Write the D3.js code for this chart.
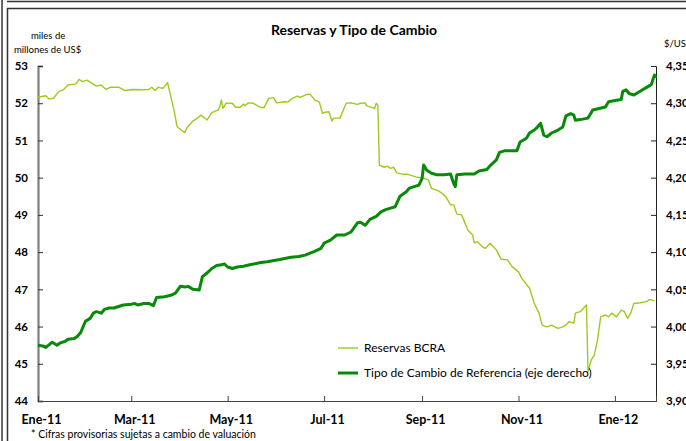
<!DOCTYPE html>
<html>
<head>
<meta charset="utf-8">
<script src="https://cdn.jsdelivr.net/npm/d3@7"></script>
<style>
  body { margin: 0; background: #fff; }
  svg { display: block; font-family: Lato, "DejaVu Sans", sans-serif; }
</style>
</head>
<body>
<svg id="chart" width="686" height="441"></svg>
<script>
// Reservas BCRA (miles de millones de US$)
const resDates = ["2011-01-01","2011-01-06","2011-01-08","2011-01-11","2011-01-14","2011-01-17","2011-01-20","2011-01-25","2011-01-27","2011-01-29",
  "2011-02-01","2011-02-04","2011-02-07","2011-02-10","2011-02-13","2011-02-16","2011-02-21","2011-02-25","2011-03-02","2011-03-09",
  "2011-03-12","2011-03-14","2011-03-16","2011-03-18","2011-03-21","2011-03-24","2011-03-28","2011-03-30","2011-04-01","2011-04-04",
  "2011-04-05","2011-04-09","2011-04-12","2011-04-14","2011-04-16","2011-04-18","2011-04-21","2011-04-25","2011-04-26","2011-04-27",
  "2011-04-28","2011-04-30","2011-05-04","2011-05-06","2011-05-09","2011-05-11","2011-05-12","2011-05-14","2011-05-17","2011-05-20",
  "2011-05-22","2011-05-24","2011-05-27","2011-05-30","2011-06-01","2011-06-06","2011-06-08","2011-06-11","2011-06-14","2011-06-16",
  "2011-06-19","2011-06-22","2011-06-25","2011-06-28","2011-06-30","2011-07-02","2011-07-04","2011-07-06","2011-07-07","2011-07-11",
  "2011-07-15","2011-07-18","2011-07-22","2011-07-24","2011-07-27","2011-07-28","2011-08-02","2011-08-03","2011-08-04","2011-08-05",
  "2011-08-08","2011-08-10","2011-08-12","2011-08-14","2011-08-16","2011-08-20","2011-08-23","2011-08-26","2011-08-29","2011-09-02",
  "2011-09-05","2011-09-07","2011-09-11","2011-09-13","2011-09-16","2011-09-19","2011-09-21","2011-09-23","2011-09-26","2011-09-30",
  "2011-10-03","2011-10-04","2011-10-06","2011-10-09","2011-10-11","2011-10-14","2011-10-18","2011-10-21","2011-10-25","2011-10-28",
  "2011-11-01","2011-11-03","2011-11-08","2011-11-11","2011-11-14","2011-11-16","2011-11-19","2011-11-22","2011-11-24","2011-11-26",
  "2011-11-29","2011-12-01","2011-12-03","2011-12-06","2011-12-07","2011-12-10","2011-12-13","2011-12-14","2011-12-15","2011-12-17",
  "2011-12-19","2011-12-21","2011-12-23","2011-12-26","2011-12-28","2011-12-30","2012-01-02","2012-01-05","2012-01-07","2012-01-09",
  "2012-01-11","2012-01-13","2012-01-17","2012-01-21","2012-01-23","2012-01-26"];
const resValues = [52.16,52.20,52.11,52.14,52.31,52.36,52.49,52.52,52.64,52.58,
  52.62,52.54,52.46,52.49,52.37,52.43,52.43,52.34,52.37,52.36,
  52.37,52.43,52.34,52.43,52.40,52.55,51.82,51.37,51.30,51.21,
  51.33,51.52,51.60,51.68,51.62,51.55,51.75,51.82,51.91,52.09,
  51.86,52.00,52.00,51.89,51.89,51.98,51.93,52.01,52.00,51.93,
  51.89,51.88,52.13,52.15,52.01,52.04,52.03,52.13,52.19,52.16,
  52.22,52.25,52.09,52.03,51.73,51.76,51.77,51.52,51.60,51.60,
  52.00,52.01,51.97,52.00,52.01,51.93,51.86,52.00,51.95,50.34,
  50.28,50.31,50.25,50.28,50.13,50.09,50.09,50.05,50.01,49.98,
  49.94,49.71,49.65,49.60,49.49,49.27,49.27,49.02,49.00,48.59,
  48.46,48.25,48.28,48.15,48.10,48.24,48.06,47.81,47.79,47.61,
  47.47,47.30,47.03,46.62,46.36,46.04,45.99,46.04,45.99,45.95,
  45.99,46.04,46.13,46.09,46.36,46.40,46.53,46.58,44.79,45.10,
  45.24,45.64,46.26,46.31,46.26,46.36,46.26,46.44,46.40,46.22,
  46.36,46.62,46.64,46.67,46.73,46.69];

// Tipo de Cambio de Referencia ($/US$, eje derecho)
const tcDates = ["2011-01-01","2011-01-04","2011-01-06","2011-01-10","2011-01-13","2011-01-15","2011-01-18","2011-01-20","2011-01-24","2011-01-26",
  "2011-01-28","2011-01-31","2011-02-03","2011-02-05","2011-02-07","2011-02-10","2011-02-12","2011-02-15","2011-02-18","2011-02-21",
  "2011-02-24","2011-03-01","2011-03-03","2011-03-05","2011-03-09","2011-03-12","2011-03-15","2011-03-17","2011-03-22","2011-03-26",
  "2011-03-29","2011-04-01","2011-04-04","2011-04-06","2011-04-09","2011-04-13","2011-04-15","2011-04-18","2011-04-21","2011-04-24",
  "2011-04-27","2011-04-29","2011-05-01","2011-05-04","2011-05-07","2011-05-11","2011-05-15","2011-05-22","2011-05-26","2011-06-03",
  "2011-06-10","2011-06-15","2011-06-19","2011-06-25","2011-06-29","2011-07-01","2011-07-05","2011-07-09","2011-07-14","2011-07-18",
  "2011-07-22","2011-07-24","2011-07-27","2011-07-30","2011-08-03","2011-08-06","2011-08-09","2011-08-12","2011-08-15","2011-08-18",
  "2011-08-22","2011-08-24","2011-08-27","2011-08-30","2011-09-01","2011-09-02","2011-09-04","2011-09-07","2011-09-10","2011-09-15",
  "2011-09-19","2011-09-21","2011-09-22","2011-09-23","2011-09-28","2011-10-04","2011-10-07","2011-10-12","2011-10-14","2011-10-18",
  "2011-10-20","2011-10-23","2011-10-31","2011-11-02","2011-11-06","2011-11-08","2011-11-11","2011-11-13","2011-11-15","2011-11-17",
  "2011-11-19","2011-11-22","2011-11-26","2011-11-29","2011-12-01","2011-12-04","2011-12-06","2011-12-07","2011-12-10","2011-12-15",
  "2011-12-18","2011-12-22","2011-12-26","2011-12-28","2012-01-02","2012-01-05","2012-01-06","2012-01-08","2012-01-10","2012-01-13",
  "2012-01-17","2012-01-20","2012-01-24","2012-01-26","2012-01-27"];
const tcValues = [3.975,3.974,3.972,3.979,3.975,3.978,3.980,3.983,3.984,3.987,
  3.992,4.007,4.011,4.018,4.020,4.018,4.023,4.025,4.025,4.027,
  4.029,4.030,4.031,4.029,4.031,4.031,4.028,4.039,4.040,4.042,
  4.045,4.054,4.053,4.054,4.050,4.049,4.067,4.072,4.078,4.082,
  4.083,4.084,4.080,4.078,4.080,4.081,4.083,4.086,4.087,4.090,
  4.093,4.094,4.096,4.101,4.105,4.112,4.116,4.123,4.123,4.127,
  4.139,4.140,4.136,4.144,4.148,4.154,4.157,4.159,4.161,4.175,
  4.181,4.186,4.188,4.190,4.199,4.217,4.210,4.206,4.204,4.204,
  4.205,4.192,4.188,4.204,4.205,4.205,4.209,4.211,4.216,4.224,
  4.234,4.236,4.236,4.248,4.253,4.260,4.264,4.268,4.273,4.257,
  4.255,4.260,4.264,4.268,4.283,4.286,4.284,4.277,4.278,4.280,
  4.291,4.293,4.295,4.302,4.304,4.305,4.316,4.318,4.313,4.311,
  4.316,4.320,4.325,4.338,4.334];

const leftTicks = [44,45,46,47,48,49,50,51,52,53];
const rightTicks = [3.90,3.95,4.00,4.05,4.10,4.15,4.20,4.25,4.30,4.35];
const monthTicks = ["2011-01-01","2011-03-01","2011-05-01","2011-07-01","2011-09-01","2011-11-01","2012-01-01"];
const monthLabels = ["Ene-11","Mar-11","May-11","Jul-11","Sep-11","Nov-11","Ene-12"];

const parse = d3.timeParse("%Y-%m-%d");
const svg = d3.select("#chart");

const plotL = 38, plotR = 656, plotT = 66, plotB = 401;

const x = d3.scaleTime()
  .domain([parse("2011-01-01"), parse("2012-01-27")])
  .range([plotL, plotR]);
const yL = d3.scaleLinear().domain([44, 53]).range([plotB, plotT]);
const yR = d3.scaleLinear().domain([3.90, 4.35]).range([plotB, plotT]);

// frame lines (the chart sits inside a bordered page)
svg.append("line").attr("x1", 2).attr("x2", 2).attr("y1", 0).attr("y2", 441)
  .attr("stroke", "#333").attr("stroke-width", 1.5);
svg.append("line").attr("x1", 7).attr("x2", 686).attr("y1", 1.5).attr("y2", 1.5)
  .attr("stroke", "#333").attr("stroke-width", 1.5);
svg.append("path").attr("d", "M7.5,441V8.5H686")
  .attr("fill", "none").attr("stroke", "#333").attr("stroke-width", 1.5);

// title
svg.append("text").attr("x", 354).attr("y", 35).attr("text-anchor", "middle")
  .attr("font-size", 14).attr("font-weight", "bold").text("Reservas y Tipo de Cambio");

svg.append("text").attr("x", 31).attr("y", 39).attr("font-size", 9.5).text("miles de");
svg.append("text").attr("x", 14).attr("y", 53).attr("font-size", 9.5).text("millones de US$");
svg.append("text").attr("x", 664).attr("y", 47).attr("font-size", 9.5).text("$/US$");

// left axis
const axL = svg.append("g").attr("transform", `translate(${plotL},0)`)
  .call(d3.axisLeft(yL).tickValues(leftTicks).tickSize(-5).tickPadding(10).tickFormat(d3.format("d")));
axL.select(".domain").attr("stroke", "#7f7f7f").attr("stroke-width", 2.2);
axL.selectAll(".tick line").attr("stroke", "#333");
axL.selectAll("text").attr("font-size", 11.5).attr("font-weight", "bold").attr("font-family", "Lato");

// right axis (labels run past the picture's right edge, as in the source)
const fmtR = v => d3.format(".2f")(v).replace(".", ",");
const axR = svg.append("g").attr("transform", `translate(${plotR},0)`)
  .call(d3.axisRight(yR).tickValues(rightTicks).tickSize(-5).tickPadding(10).tickFormat(fmtR));
axR.select(".domain").attr("stroke", "#222");
axR.selectAll(".tick line").attr("stroke", "#222");
axR.selectAll("text").attr("font-size", 11.5).attr("font-weight", "bold").attr("font-family", "Lato");

// bottom axis
const axB = svg.append("g").attr("transform", `translate(0,${plotB})`)
  .call(d3.axisBottom(x).tickValues(monthTicks.map(parse)).tickSize(-5)
    .tickFormat((d, i) => monthLabels[i]));
axB.select(".domain").attr("stroke", "#444");
axB.selectAll(".tick line").attr("stroke", "#444");
axB.selectAll("text").attr("font-size", 12.5).attr("font-weight", "bold").attr("font-family", "Lato")
  .attr("y", 14).attr("dx", 3);

// series
const resData = resDates.map((d, i) => ({date: parse(d), v: resValues[i]}));
const tcData = tcDates.map((d, i) => ({date: parse(d), v: tcValues[i]}));

svg.append("path").datum(resData)
  .attr("fill", "none").attr("stroke", "#9ccb1e").attr("stroke-width", 1.4)
  .attr("stroke-linejoin", "round")
  .attr("d", d3.line().x(d => x(d.date)).y(d => yL(d.v)));

svg.append("path").datum(tcData)
  .attr("fill", "none").attr("stroke", "#078a07").attr("stroke-width", 3)
  .attr("stroke-linejoin", "round")
  .attr("d", d3.line().x(d => x(d.date)).y(d => yR(d.v)));

// legend
const legend = [
  {label: "Reservas BCRA", color: "#9ccb1e", w: 1.4},
  {label: "Tipo de Cambio de Referencia (eje derecho)", color: "#078a07", w: 3}
];
const lg = svg.append("g").selectAll("g").data(legend).join("g")
  .attr("transform", (d, i) => `translate(338,${348 + i * 25})`);
lg.append("line").attr("x1", 0).attr("x2", 20)
  .attr("stroke", d => d.color).attr("stroke-width", d => d.w);
lg.append("text").attr("x", 26).attr("y", 4).attr("font-size", 12).text(d => d.label);

// footnote
svg.append("text").attr("x", 31).attr("y", 438).attr("font-size", 10.5)
  .text("* Cifras provisorias sujetas a cambio de valuación");
</script>
</body>
</html>
